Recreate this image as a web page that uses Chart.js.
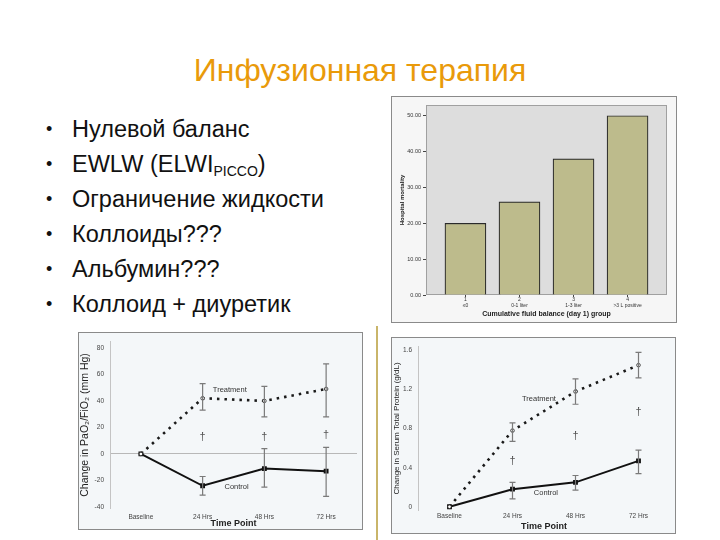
<!DOCTYPE html>
<html><head><meta charset="utf-8">
<script src="https://cdn.jsdelivr.net/npm/chart.js@4/dist/chart.umd.min.js"></script>
<style>
body{margin:0;width:720px;height:540px;background:#fff;position:relative;overflow:hidden;font-family:"Liberation Sans",Arial,sans-serif;}
#title{position:absolute;left:0;width:720px;top:52px;text-align:center;font-size:32px;color:#E99A0A;}
#bullets{position:absolute;left:46px;top:112px;margin:0;padding:0;list-style:none;font-size:23.5px;line-height:35px;color:#111;}
#bullets li{position:relative;padding-left:26px;white-space:nowrap;}
#bullets li:before{content:"•";position:absolute;left:0;top:0;font-size:18px;}
sub{font-size:14px;vertical-align:-4px;line-height:0;}
canvas{position:absolute;}
#vline{position:absolute;left:376px;top:326px;width:2px;height:214px;background:#C9B56A;}
</style></head><body>
<div id="title">Инфузионная терапия</div>
<ul id="bullets">
<li>Нулевой баланс</li>
<li>EWLW (ELWI<sub>PICCO</sub>)</li>
<li>Ограничение жидкости</li>
<li>Коллоиды???</li>
<li>Альбумин???</li>
<li>Коллоид + диуретик</li>
</ul>
<div id="vline"></div>
<canvas id="c1" width="286" height="227" style="left:391px;top:96px"></canvas>
<canvas id="c2" width="285" height="198" style="left:78px;top:332px"></canvas>
<canvas id="c3" width="285" height="197" style="left:391px;top:337px"></canvas>
<script>
// ---- data ----
const barCategories = [['1','≤0'],['2','0-1 liter'],['3','1-3 liter'],['4','>3 L positive']];
const barMortality = [20, 26, 38, 50];
const barTicks = [0, 10, 20, 30, 40, 50];

const timeLabels = ['Baseline', '24 Hrs', '48 Hrs', '72 Hrs'];

const pfTreatment = [0, 42, 40, 49];
const pfControl = [0, -24, -11, -13];
const pfTreatLow = [null, 33, 28, 28];
const pfTreatHigh = [null, 53, 51, 68];
const pfCtrlLow = [null, -31, -25, -32];
const pfCtrlHigh = [null, -17, 4, 5];
const pfDaggers = [null, 13, 13, 14];
const pfTicks = [-40, -20, 0, 20, 40, 60, 80];

const tpTreatment = [0, 0.78, 1.18, 1.45];
const tpControl = [0, 0.18, 0.25, 0.47];
const tpTreatLow = [null, 0.67, 1.05, 1.32];
const tpTreatHigh = [null, 0.86, 1.31, 1.58];
const tpCtrlLow = [null, 0.08, 0.17, 0.34];
const tpCtrlHigh = [null, 0.25, 0.32, 0.58];
const tpDaggers = [null, 0.47, 0.72, 0.97];
const tpTicks = [0, 0.4, 0.8, 1.2, 1.6];

const FONT = '"Liberation Sans", Arial, sans-serif';

function framePlugin(bg, border, plotBg, plotBorder){
  return {id:'frame'+Math.random(), beforeDraw(chart){
    const c = chart.ctx, w = chart.width, h = chart.height, a = chart.chartArea;
    c.save();
    c.fillStyle = bg; c.fillRect(0,0,w,h);
    if (plotBg){
      c.fillStyle = plotBg;
      c.fillRect(a.left, a.top, a.right-a.left, a.bottom-a.top);
      c.strokeStyle = plotBorder; c.lineWidth = 1;
      c.strokeRect(a.left+0.5, a.top+0.5, a.right-a.left-1, a.bottom-a.top-1);
    }
    c.strokeStyle = border; c.lineWidth = 1;
    c.strokeRect(0.5,0.5,w-1,h-1);
    c.restore();
  }};
}

function overlayPlugin(errSets, daggers, labels){
  return {id:'ov'+Math.random(), afterDatasetsDraw(chart){
    const c = chart.ctx, xs = chart.scales.x, ys = chart.scales.y;
    c.save();
    c.strokeStyle = '#7a7a7a'; c.lineWidth = 1.2;
    errSets.forEach(s => {
      s.low.forEach((lo, i) => {
        const hi = s.high[i];
        if (lo == null || hi == null) return;
        const x = xs.getPixelForValue(i), y1 = ys.getPixelForValue(lo), y2 = ys.getPixelForValue(hi);
        c.beginPath();
        c.moveTo(x, y1); c.lineTo(x, y2);
        c.moveTo(x-3, y1); c.lineTo(x+3, y1);
        c.moveTo(x-3, y2); c.lineTo(x+3, y2);
        c.stroke();
      });
    });
    c.fillStyle = '#555'; c.font = '11px ' + FONT; c.textAlign = 'center'; c.textBaseline = 'middle';
    daggers.forEach((v, i) => { if (v == null) return; c.fillText('†', xs.getPixelForValue(i), ys.getPixelForValue(v)); });
    c.fillStyle = '#333'; c.font = '7.5px ' + FONT;
    labels.forEach(l => { c.fillText(l.text, xs.getPixelForValue(l.x), ys.getPixelForValue(l.y)); });
    c.restore();
  }};
}

// ---- bar chart ----
new Chart(document.getElementById('c1'), {
  type: 'bar',
  data: { datasets: [{
    data: barMortality.map((v, i) => ({x: i + 1, y: v})),
    backgroundColor: '#BDBB8C', borderColor: '#2a2a2a', borderWidth: 1.2, borderSkipped: 'bottom',
    barThickness: 41
  }]},
  options: {
    responsive: false, animation: false,
    layout: {padding: {left: 6, top: 9, right: 10, bottom: 3}},
    plugins: {legend: {display: false}, tooltip: {enabled: false}},
    scales: {
      x: {
        type: 'linear', min: 0.27, max: 4.73, offset: false,
        afterBuildTicks: s => { s.ticks = barCategories.map((c, i) => ({value: i + 1})); },
        afterFit: s => { s.height = 25; },
        grid: {display: true, offset: false, drawOnChartArea: false, drawTicks: true, tickLength: 2, color: '#444'},
        border: {display: false},
        ticks: {callback: v => barCategories[v - 1], font: {size: 5, family: FONT}, color: '#333', padding: 0, maxRotation: 0},
        title: {display: true, text: 'Cumulative fluid balance (day 1) group', font: {size: 7, weight: 'bold', family: FONT}, color: '#222', padding: {top: 0, bottom: 2}}
      },
      y: {
        min: 0, max: 53,
        afterBuildTicks: s => { s.ticks = barTicks.map(v => ({value: v})); },
        afterFit: s => { s.width = 29; },
        grid: {display: true, drawOnChartArea: false, drawTicks: true, tickLength: 3, color: '#444'},
        border: {display: false},
        ticks: {callback: v => v.toFixed(2), font: {size: 5.5, family: FONT}, color: '#333', padding: 2},
        title: {display: true, text: 'Hospital mortality', font: {size: 6, weight: 'bold', family: FONT}, color: '#222', padding: {top: 2, bottom: 0}}
      }
    }
  },
  plugins: [framePlugin('#F6F6F6', '#8a8a8a', '#DDDDDD', '#A0A0A0')]
});

function lineOptions(yMin, yMax, ticks, tickFmt, yTitle, yTitleSize, pad, yWidth, xHeight, xPad, zeroLine){
  return {
    responsive: false, animation: false,
    layout: {padding: pad},
    plugins: {legend: {display: false}, tooltip: {enabled: false}},
    scales: {
      x: {
        type: 'category', offset: true,
        afterFit: s => { s.height = xHeight; },
        grid: {display: false, drawTicks: false, tickLength: 0},
        border: {display: false},
        ticks: {font: {size: 6.5, family: FONT}, color: '#444', padding: xPad},
        title: {display: true, text: 'Time Point', font: {size: 9, weight: 'bold', family: FONT}, color: '#222', padding: {top: 0, bottom: 0}}
      },
      y: {
        min: yMin, max: yMax,
        afterBuildTicks: s => { s.ticks = ticks.map(v => ({value: v})); },
        afterFit: s => { s.width = yWidth; },
        grid: {drawOnChartArea: zeroLine, drawTicks: false, tickLength: 0, color: ctx => (ctx.tick && ctx.tick.value === 0) ? '#b8b8b8' : 'rgba(0,0,0,0)'},
        border: {display: true, color: '#c4c4c4'},
        ticks: {callback: tickFmt, font: {size: 6.5, family: FONT}, color: '#444', padding: 6},
        title: {display: true, text: yTitle, font: {size: yTitleSize, family: FONT}, color: '#222', padding: {top: 1, bottom: 0}}
      }
    }
  };
}

const treatStyle = {borderColor: '#1a1a1a', borderWidth: 2.6, borderDash: [2.5, 5], pointRadius: 1.8, pointBackgroundColor: '#fff', pointBorderColor: '#222', pointBorderWidth: 0.8, fill: false, tension: 0};
const ctrlStyle = {borderColor: '#111', borderWidth: 2, pointRadius: 2, pointStyle: 'rect', pointBackgroundColor: '#111', pointBorderColor: '#111', fill: false, tension: 0};

// ---- PaO2/FiO2 chart ----
new Chart(document.getElementById('c2'), {
  type: 'line',
  data: {labels: timeLabels, datasets: [
    Object.assign({data: pfTreatment}, treatStyle),
    Object.assign({data: pfControl}, ctrlStyle)
  ]},
  options: lineOptions(-40.75, 84.5, pfTicks, v => String(v), 'Change in PaO₂/FiO₂ (mm Hg)', 10.5, {left: 0, top: 9, right: 3, bottom: 1}, 32, 21, 5, true),
  plugins: [framePlugin('#F4F7F9', '#8a8a8a'),
    overlayPlugin([{low: pfTreatLow, high: pfTreatHigh}, {low: pfCtrlLow, high: pfCtrlHigh}], pfDaggers,
      [{text: 'Treatment', x: 1.44, y: 48}, {text: 'Control', x: 1.55, y: -24.5}])]
});

// ---- Total protein chart ----
new Chart(document.getElementById('c3'), {
  type: 'line',
  data: {labels: timeLabels, datasets: [
    Object.assign({data: tpTreatment}, treatStyle),
    Object.assign({data: tpControl}, ctrlStyle)
  ]},
  options: lineOptions(-0.033, 1.637, tpTicks, v => v === 0 ? '0' : v.toFixed(1), 'Change in Serum Total Protein (g/dL)', 8, {left: 0, top: 6, right: 2, bottom: 2}, 27, 22, 2, false),
  plugins: [framePlugin('#F4F7F9', '#8a8a8a'),
    overlayPlugin([{low: tpTreatLow, high: tpTreatHigh}, {low: tpCtrlLow, high: tpCtrlHigh}], tpDaggers,
      [{text: 'Treatment', x: 1.42, y: 1.10}, {text: 'Control', x: 1.53, y: 0.14}])]
});
</script>
</body></html>
